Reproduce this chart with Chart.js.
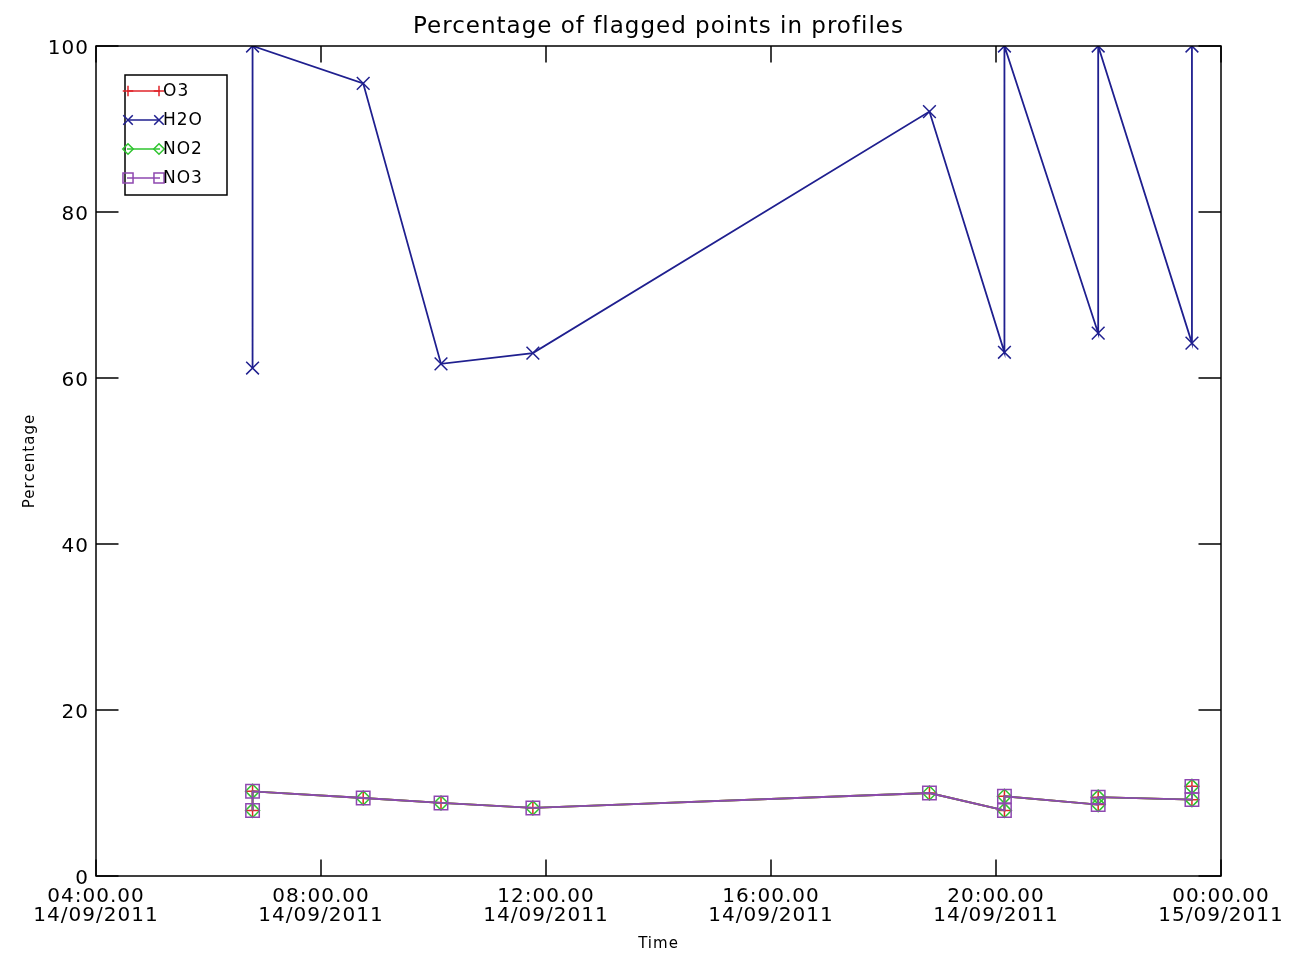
<!DOCTYPE html>
<html>
<head>
<meta charset="utf-8">
<script src="https://cdn.jsdelivr.net/npm/chart.js@4.4.1/dist/chart.umd.min.js"></script>
<style>
  html, body { margin: 0; padding: 0; background: #fff; }
  #wrap { width: 1290px; height: 957px; }
</style>
</head>
<body>
<div id="wrap"><canvas id="flagChart" width="1290" height="957"></canvas></div>
<script>
// profile times (14/09/2011, hh:mm) - two profiles share some times
const profileTimes = ["06:47", "06:47", "08:45", "10:08", "11:46", "18:49", "20:09", "20:09", "21:49", "21:49", "23:29", "23:29"];

// percentage of flagged points per species
const o3Values  = [7.9, 10.2, 9.4, 8.8, 8.2, 10.0, 7.9, 9.6, 8.6, 9.5, 9.2, 10.8];
const h2oValues = [61.2, 100, 95.5, 61.7, 63.0, 92.1, 63.1, 100, 65.4, 100, 64.2, 100];
const no2Values = [7.9, 10.2, 9.4, 8.8, 8.2, 10.0, 7.9, 9.6, 8.6, 9.5, 9.2, 10.8];
const no3Values = [7.9, 10.2, 9.4, 8.8, 8.2, 10.0, 7.9, 9.6, 8.6, 9.5, 9.2, 10.8];

const seriesNames = ["O3", "H2O", "NO2", "NO3"];

// x axis: hours since 00:00 14/09/2011
const xTickLabels = [
    ["04:00.00", "14/09/2011"],
    ["08:00.00", "14/09/2011"],
    ["12:00.00", "14/09/2011"],
    ["16:00.00", "14/09/2011"],
    ["20:00.00", "14/09/2011"],
    ["00:00.00", "15/09/2011"],
];

function toHours(t) {
    const p = t.split(":");
    return Number(p[0]) + Number(p[1]) / 60;
}
function toPoints(values) {
    return values.map((v, i) => ({ x: toHours(profileTimes[i]), y: v }));
}

const FONT = "'DejaVu Sans', sans-serif";

// wider lettering, closer to the IDL vector font
const spacing = {
    id: "spacing",
    beforeInit(chart) { chart.ctx.letterSpacing = "1px"; },
    beforeDraw(chart) { chart.ctx.letterSpacing = "1px"; },
};

// IDL style frame with inward ticks
const frameTicks = {
    id: "frameTicks",
    afterDraw(chart) {
        const { ctx, chartArea: a, scales } = chart;
        ctx.save();
        ctx.strokeStyle = "#000";
        ctx.lineWidth = 1.5;
        ctx.strokeRect(a.left, a.top, a.right - a.left, a.bottom - a.top);
        ctx.beginPath();
        const xl = (a.bottom - a.top) * 0.02;
        scales.x.ticks.forEach(t => {
            const px = scales.x.getPixelForValue(t.value);
            ctx.moveTo(px, a.bottom); ctx.lineTo(px, a.bottom - xl);
            ctx.moveTo(px, a.top); ctx.lineTo(px, a.top + xl);
        });
        const yl = (a.right - a.left) * 0.02;
        scales.y.ticks.forEach(t => {
            const py = scales.y.getPixelForValue(t.value);
            ctx.moveTo(a.left, py); ctx.lineTo(a.left + yl, py);
            ctx.moveTo(a.right, py); ctx.lineTo(a.right - yl, py);
        });
        ctx.stroke();
        ctx.restore();
    }
};

// legend: line with a symbol at each end, boxed
const legendBox = {
    id: "legendBox",
    afterDraw(chart) {
        const { ctx, chartArea: a } = chart;
        const x0 = a.left + 29, y0 = a.top + 29;
        ctx.save();
        ctx.strokeStyle = "#000";
        ctx.lineWidth = 1.5;
        ctx.strokeRect(x0, y0, 102, 120);
        chart.data.datasets.forEach((ds, i) => {
            const y = y0 + 16 + i * 29;
            ctx.strokeStyle = ds.borderColor;
            ctx.fillStyle = "rgba(0,0,0,0)";
            ctx.lineWidth = 1.5;
            ctx.beginPath();
            ctx.moveTo(x0 + 2, y);
            ctx.lineTo(x0 + 35, y);
            ctx.stroke();
            const opts = { pointStyle: ds.pointStyle, radius: ds.pointRadius * 0.75, rotation: 0, borderWidth: 1.5 };
            Chart.helpers.drawPoint(ctx, opts, x0 + 3, y);
            Chart.helpers.drawPoint(ctx, opts, x0 + 34, y);
            ctx.fillStyle = "#000";
            ctx.font = "17px " + FONT;
            ctx.textBaseline = "middle";
            ctx.textAlign = "left";
            ctx.fillText(seriesNames[i], x0 + 38, y + 1);
        });
        ctx.restore();
    }
};

function makeSet(i, values, color, style, radius, order) {
    return {
        label: seriesNames[i],
        data: toPoints(values),
        borderColor: color,
        backgroundColor: "rgba(0,0,0,0)",
        pointBorderColor: color,
        pointBackgroundColor: "rgba(0,0,0,0)",
        pointStyle: style,
        pointRadius: radius,
        pointBorderWidth: 1.5,
        borderWidth: 1.8,
        tension: 0,
        order: order,
    };
}

const flagChart = new Chart(document.getElementById("flagChart"), {
    type: "line",
    data: {
        datasets: [
            makeSet(0, o3Values, "#e0242a", "cross", 7, 4),
            makeSet(1, h2oValues, "#1f1f8f", "crossRot", 9, 1),
            makeSet(2, no2Values, "#2fc42f", "rectRot", 7, 3),
            makeSet(3, no3Values, "#8e48b0", "rect", 9.5, 0),
        ],
    },
    options: {
        responsive: false,
        animation: false,
        devicePixelRatio: 1,
        layout: { padding: { left: 0, right: 69, top: 0, bottom: 0 } },
        plugins: {
            legend: { display: false },
            tooltip: { enabled: false },
        },
        scales: {
            // top axis only carries the title, centred over the plot box
            top: {
                type: "linear",
                position: "top",
                min: 4,
                max: 24,
                grid: { display: false, drawTicks: false },
                border: { display: false },
                ticks: { display: false },
                title: {
                    display: true,
                    text: "Percentage of flagged points in profiles",
                    color: "#000",
                    font: { family: FONT, size: 23, lineHeight: 1.2 },
                    padding: { top: 13, bottom: 0 },
                },
                afterFit: s => { s.height = 46; },
            },
            x: {
                type: "linear",
                min: 4,
                max: 24,
                grid: { display: false, drawTicks: false },
                border: { display: false },
                ticks: {
                    stepSize: 4,
                    color: "#000",
                    padding: 11,
                    maxRotation: 0,
                    font: { family: FONT, size: 20, lineHeight: 0.95 },
                    callback: (v, idx) => xTickLabels[idx],
                },
                title: {
                    display: true,
                    text: "Time",
                    color: "#000",
                    font: { family: FONT, size: 15 },
                    padding: { top: 0, bottom: 4 },
                },
                afterFit: s => { s.height = 81; },
            },
            y: {
                min: 0,
                max: 100,
                grid: { display: false, drawTicks: false },
                border: { display: false },
                ticks: {
                    stepSize: 20,
                    color: "#000",
                    padding: 7,
                    labelOffset: 3,
                    font: { family: FONT, size: 20 },
                },
                title: {
                    display: true,
                    text: "Percentage",
                    color: "#000",
                    font: { family: FONT, size: 15 },
                    padding: { top: 21, bottom: 0 },
                },
                afterFit: s => { s.width = 96; },
            },
        },
    },
    plugins: [spacing, frameTicks, legendBox],
});
</script>
</body>
</html>
